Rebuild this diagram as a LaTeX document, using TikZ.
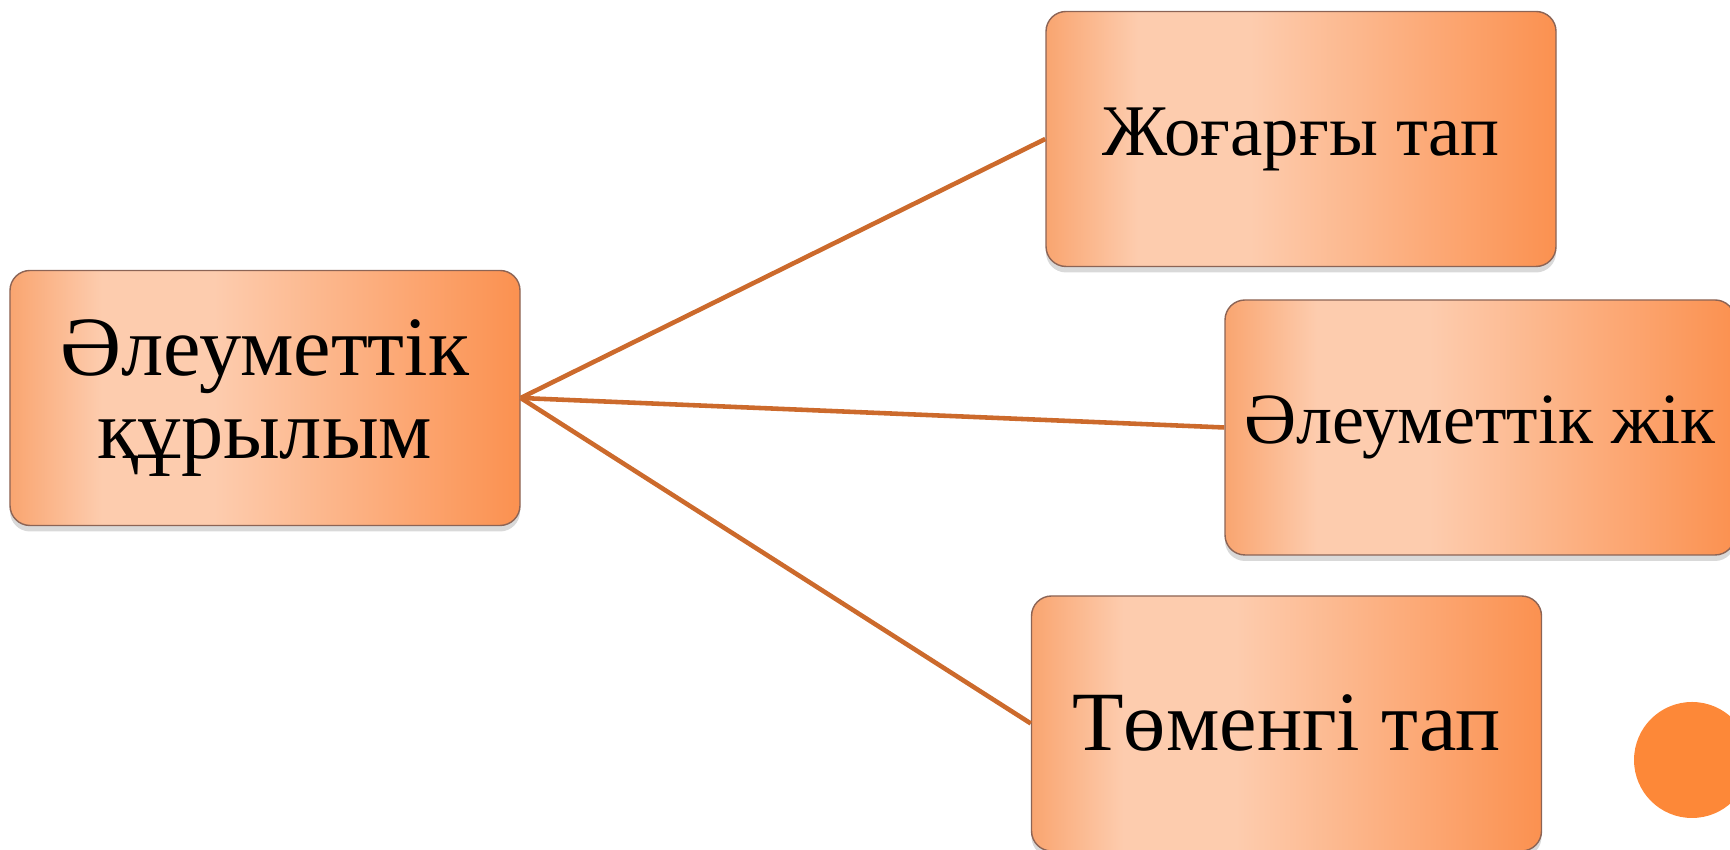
\documentclass[tikz,border=0pt]{standalone}
\usepackage{fontspec}
\setmainfont{Liberation Serif}
\definecolor{boxlite}{RGB}{253,204,174}
\definecolor{boxedge}{RGB}{249,165,112}
\definecolor{boxdark}{RGB}{251,145,80}
\definecolor{linkbrown}{RGB}{204,106,44}
\definecolor{dotorange}{RGB}{253,136,56}
\definecolor{rimgray}{RGB}{140,100,85}
\usetikzlibrary{shapes,arrows,positioning,calc,fit,shadows}
\pgfdeclarehorizontalshading{peach}{100bp}{color(0bp)=(boxedge); color(25bp)=(boxedge); color(34bp)=(boxlite); color(45bp)=(boxlite); color(75bp)=(boxdark); color(100bp)=(boxdark)}

\begin{document}
\begin{tikzpicture}[
    block/.style={draw=rimgray, line width=0.4pt, rounded corners=0.2cm, shade, shading=peach,
        minimum width=5.1cm, minimum height=2.55cm, align=center, inner sep=0pt,
        drop shadow={opacity=0.3, shadow xshift=0pt, shadow yshift=-0.06cm}},
    link/.style={draw=linkbrown, line width=1.3pt}]
    \useasboundingbox (0,0) rectangle (17.3,8.5);

    % Boxes
    \node[block, font={\fontsize{24}{23.6}\selectfont}] (structure) at (2.65,4.52) {Әлеуметтік\\құрылым};
    \node[block, font={\fontsize{20.7}{24}\selectfont}] (upper) at (13.01,7.11) {Жоғарғы тап};
    \node[block, font={\fontsize{20.5}{24}\selectfont}] (stratum) at (14.80,4.225) {Әлеуметтік жік};
    \node[block, font={\fontsize{24}{28}\selectfont}] (lower) at (12.865,1.265) {Төменгі тап};

    % Links
    \draw[link] (structure.east) -- (upper.west);
    \draw[link] (structure.east) -- (stratum.west);
    \draw[link] (structure.east) -- (lower.west);

    % Corner dot
    \fill[dotorange] (16.92,0.90) circle (0.58);
\end{tikzpicture}
\end{document}
